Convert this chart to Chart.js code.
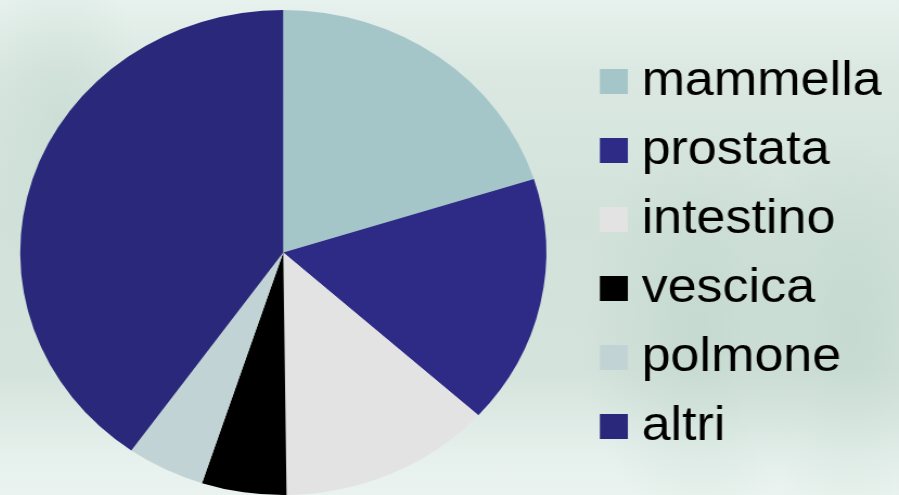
<!DOCTYPE html>
<html>
<head>
<meta charset="utf-8">
<script src="https://cdn.jsdelivr.net/npm/chart.js@4/dist/chart.umd.min.js"></script>
<style>
  html, body { margin: 0; padding: 0; }
  body {
    width: 899px; height: 495px; overflow: hidden; position: relative;
    background:
      radial-gradient(ellipse 120px 200px at 700px 330px, rgba(170,200,188,0.35), rgba(170,200,188,0) 100%),
      radial-gradient(ellipse 110px 200px at 850px 330px, rgba(170,200,188,0.35), rgba(170,200,188,0) 100%),
      radial-gradient(ellipse 90px 160px at 60px 120px, rgba(180,208,196,0.35), rgba(180,208,196,0) 100%),
      linear-gradient(to bottom, #e7f1ed 0%, #dbe8e2 15%, #d2e2db 45%, #d4e3dc 75%, #e6f0ec 92%, #eaf3ef 100%);
  }
  #wrap { position: absolute; left: 0; top: 0; width: 899px; height: 495px; overflow: hidden; }
  #pie { display: block; position: absolute; left: -23px; top: 0; }
</style>
</head>
<body>
<div id="wrap">
  <canvas id="pie" width="850" height="495" style="width:922px;height:495px"></canvas>
</div>
<script>
// Ripartizione dei tumori per sede (valori percentuali)
const categories = ['mammella', 'prostata', 'intestino', 'vescica', 'polmone', 'altri'];
const shares = [20.1, 16.6, 13.1, 5.2, 4.8, 40.2];
const sliceColors = ['#a5c6c9', '#2e2b87', '#e3e3e3', '#000000', '#c2d3d6', '#29287a'];

const baseLabels = Chart.overrides.pie.plugins.legend.labels.generateLabels;

new Chart(document.getElementById('pie'), {
  type: 'pie',
  data: {
    labels: categories,
    datasets: [{
      data: shares,
      backgroundColor: sliceColors,
      borderWidth: 0
    }]
  },
  options: {
    responsive: false,
    animation: false,
    layout: { padding: { left: 0, right: 6, top: 10, bottom: -3 } },
    plugins: {
      tooltip: { enabled: false },
      legend: {
        position: 'right',
        align: 'center',
        labels: {
          color: '#000000',
          font: { family: '"Liberation Sans", Arial, sans-serif', size: 48 },
          boxWidth: 3,
          boxHeight: 2.2,
          padding: 21,
          generateLabels(chart) {
            // square swatches: thick stroke in the fill colour around a small core
            return baseLabels(chart).map(item => Object.assign(item, {
              strokeStyle: item.fillStyle,
              lineWidth: 22.8,
              lineJoin: 'miter'
            }));
          }
        }
      }
    }
  }
});
</script>
</body>
</html>
